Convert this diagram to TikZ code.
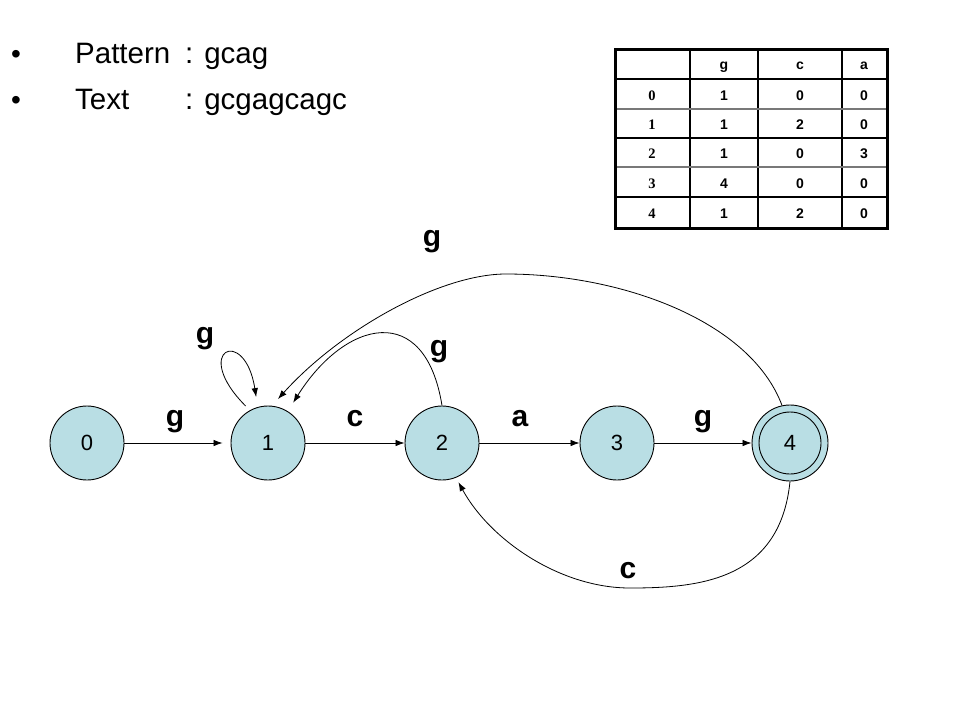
\documentclass[tikz,border=0pt]{standalone}
\usepackage{fontspec}
\setmainfont{Liberation Sans}
\newfontfamily\tnr{Liberation Serif}
\usetikzlibrary{arrows.meta}
\definecolor{nodefill}{RGB}{185,222,228}
\definecolor{tgray}{RGB}{120,120,120}
\begin{document}
\begin{tikzpicture}[x=1pt,y=-1pt,
  state/.style={circle,draw,line width=0.9pt,fill=nodefill,minimum size=74pt,inner sep=0pt,font=\fontsize{22}{26}\selectfont},
  arr/.style={-{Latex[length=9pt,width=6.5pt]},line width=0.8pt},
  lab/.style={font=\fontsize{30}{36}\selectfont\bfseries,anchor=base,inner sep=0pt},
  hdr/.style={font=\fontsize{29.5}{34}\selectfont,anchor=base west,inner sep=0pt},
  bul/.style={font=\fontsize{28}{34}\selectfont,anchor=base,inner sep=0pt},
  cell/.style={font=\fontsize{14}{16}\selectfont\bfseries,inner sep=0pt,anchor=base},
  rowlab/.style={font=\fontsize{14.5}{16}\selectfont\tnr\bfseries,inner sep=0pt,anchor=base},
  thin/.style={line width=1.2pt},
  grayline/.style={line width=1.6pt,draw=tgray},
  outer/.style={line width=3pt}]
\useasboundingbox (0,0) rectangle (960,720);

% header text
\node[bul] (b1) at (16,63) {•};
\node[bul] (b2) at (16,109) {•};
\node[hdr] (pat) at (75,63) {Pattern};
\node[hdr] (patv) at (185,63) {: gcag};
\node[hdr] (txt) at (75,109) {Text};
\node[hdr] (txtv) at (185,109) {: gcgagcagc};

% table
\draw[thin] (690,49) -- (690,228);
\draw[thin] (758,49) -- (758,228);
\draw[thin] (842,49) -- (842,228);
\draw[thin] (615,79) -- (887,79);
\draw[grayline] (615,109) -- (887,109);
\draw[thin] (615,138) -- (887,138);
\draw[grayline] (615,167) -- (887,167);
\draw[thin] (615,197) -- (887,197);
\draw[outer] (615,49) rectangle (887,228);
\node[cell] (hg) at (724,69) {g};
\node[cell] (hc) at (800,69) {c};
\node[cell] (ha) at (864,69) {a};
\foreach \r/\y/\g/\c/\a in {0/100.5/1/0/0, 1/129.5/1/2/0, 2/158.5/1/0/3, 3/188/4/0/0, 4/218/1/2/0}{
  \node[rowlab] (r\r) at (652,\y) {\r};
  \node[cell] (g\r) at (724,\y) {\g};
  \node[cell] (c\r) at (800,\y) {\c};
  \node[cell] (a\r) at (864,\y) {\a};
}

% states
\node[state] (n0) at (87,443) {0};
\node[state] (n1) at (268,443) {1};
\node[state] (n2) at (442,443) {2};
\node[state] (n3) at (617,443) {3};
\node[state,minimum size=76pt] (n4) at (790,443) {};
\node[state,minimum size=62pt] (n4i) at (n4) {4};

% edges
\draw[arr,shorten >=8pt] (n0) -- (n1);
\draw[arr] (n1) -- (n2);
\draw[arr] (n2) -- (n3);
\draw[arr] (n3) -- (n4);
\draw[arr,shorten <=6pt,shorten >=10pt] (n1.119) .. controls (190,350) and (245,325) .. (n1.106);
\draw[arr,shorten >=10pt] (n2.north) .. controls (425,300) and (345,320) .. (n1.58);
\draw[arr,shorten >=9pt] (n4.102) .. controls (750,320) and (620,274) .. (506,274) .. controls (440,274) and (340,330) .. (n1.84);
\draw[arr,shorten >=5pt] (n4.south) .. controls (780,580) and (700,588) .. (630,588) .. controls (560,588) and (490,540) .. (n2.-68);

% labels
\node[lab] (l01) at (175,426) {g};
\node[lab] (l12) at (355,426) {c};
\node[lab] (l23) at (520,426) {a};
\node[lab] (l34) at (703,426) {g};
\node[lab] (l11) at (205,343) {g};
\node[lab] (l21) at (439,356) {g};
\node[lab] (l41) at (432,246) {g};
\node[lab] (l42) at (628,578) {c};
\end{tikzpicture}
\end{document}
